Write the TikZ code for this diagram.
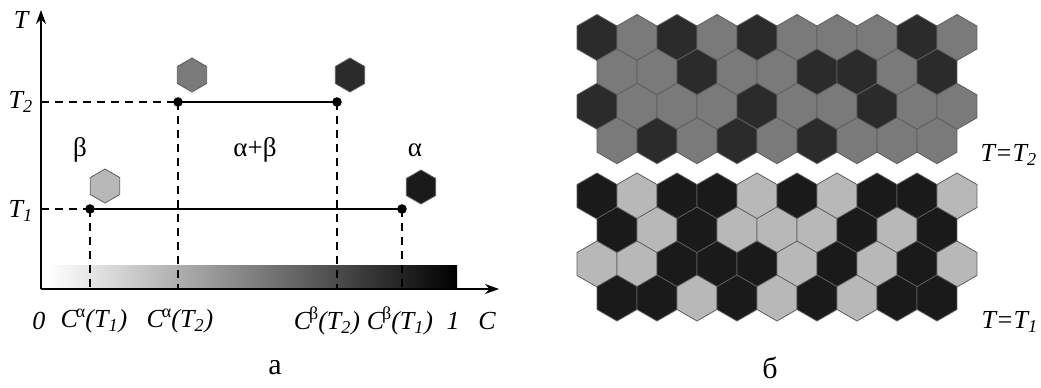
\documentclass[tikz,border=0pt]{standalone}
\usepackage{fontspec}
\setmainfont{Liberation Serif}
\usetikzlibrary{arrows.meta}
\definecolor{cL}{HTML}{B8B8B8}
\definecolor{cM}{HTML}{7A7A7A}
\definecolor{cD}{HTML}{2B2B2B}
\definecolor{cB}{HTML}{1A1A1A}
\definecolor{hexline}{HTML}{5E5E5E}

\begin{document}
\begin{tikzpicture}[x=0.5pt,y=-0.5pt,
  hexcell/.style={draw=hexline, line width=0.4pt},
  guide/.style={dash pattern=on 4pt off 3pt, line width=0.6pt},
  tieline/.style={line width=0.9pt},
  axis/.style={line width=0.9pt, -{Stealth[length=7pt,width=5pt]}},
  lbl/.style={font=\fontsize{13}{15}\selectfont\itshape},
  greek/.style={font=\fontsize{13.5}{15}\selectfont},
  caption/.style={font=\fontsize{15}{17}\selectfont}]
\useasboundingbox (0,0) rectangle (1041,387);

% Phase diagram
\shade[left color=white, right color=black] (49,265) rectangle (457,289);
\coordinate (o) at (41,289);
\draw[axis] (o) -- (41,10);
\draw[axis] (o) -- (499,289);

\coordinate (a1) at (90,209);
\coordinate (b1) at (402,209);
\coordinate (a2) at (178,102);
\coordinate (b2) at (337,102);

\draw[guide] (o |- a1) -- (a1);
\draw[guide] (o |- a2) -- (a2);
\draw[guide] (a1) -- (a1 |- o);
\draw[guide] (b1) -- (b1 |- o);
\draw[guide] (a2) -- (a2 |- o);
\draw[guide] (b2) -- (b2 |- o);
\draw[tieline] (a1) -- (b1);
\draw[tieline] (a2) -- (b2);
\foreach \pt in {a1,b1,a2,b2}
  \fill (\pt) circle (4.8);

% Phase grains
\filldraw[hexcell, fill=cL] (105,186) +(90:17) -- +(150:17) -- +(210:17) -- +(270:17) -- +(330:17) -- +(30:17) -- cycle;
\filldraw[hexcell, fill=cM] (192,75) +(90:17) -- +(150:17) -- +(210:17) -- +(270:17) -- +(330:17) -- +(30:17) -- cycle;
\filldraw[hexcell, fill=cD] (350,75) +(90:17) -- +(150:17) -- +(210:17) -- +(270:17) -- +(330:17) -- +(30:17) -- cycle;
\filldraw[hexcell, fill=cB] (421,187) +(90:17) -- +(150:17) -- +(210:17) -- +(270:17) -- +(330:17) -- +(30:17) -- cycle;

% Axis labels
\node[lbl] (tlab) at (21,20) {T};
\node[lbl] (t2lab) at (21,102) {T\textsubscript{2}};
\node[lbl] (t1lab) at (21,211) {T\textsubscript{1}};
\node[greek] (beta) at (80,150) {β};
\node[greek] (mix) at (255,150) {α+β};
\node[greek] (alpha) at (415,150) {α};
\node[lbl] (zero) at (39,321) {0};
\node[lbl] (ca1) at (94,321) {C\kern-0.08em\raisebox{0.9ex}{\small\upshape α}(T\textsubscript{1})};
\node[lbl] (ca2) at (180,321) {C\kern-0.08em\raisebox{0.9ex}{\small\upshape α}(T\textsubscript{2})};
\node[lbl] (cb2) at (327,321) {C\kern-0.08em\raisebox{0.9ex}{\small\upshape β}(T\textsubscript{2})};
\node[lbl] (cb1) at (400,321) {C\kern-0.08em\raisebox{0.9ex}{\small\upshape β}(T\textsubscript{1})};
\node[lbl] (one) at (453,321) {1};
\node[lbl] (clab) at (487,321) {C};
\node[caption] (capa) at (275,368) {а};

% Microstructure at T = T2
\foreach \rowi/\cols in {0/{D,M,D,M,D,M,M,M,D,M},1/{M,M,D,M,M,D,D,M,D},2/{D,M,M,M,D,M,M,D,M,M},3/{M,D,M,D,M,D,M,M,M}}{
  \foreach \tone [count=\idx from 0] in \cols {
    \pgfmathsetmacro{\hx}{597+40*\idx+20*mod(\rowi,2)}
    \pgfmathsetmacro{\hy}{37.5+34.4*\rowi}
    \filldraw[hexcell, fill=c\tone] (\hx,\hy) +(90:23) -- +(150:23) -- +(210:23) -- +(270:23) -- +(330:23) -- +(30:23) -- cycle;
  }
}

% Microstructure at T = T1
\foreach \rowi/\cols in {0/{B,L,B,B,L,B,L,B,B,L},1/{B,L,B,L,L,L,B,L,B},2/{L,L,B,B,B,L,B,L,B,L},3/{B,B,L,B,L,B,L,B,B}}{
  \foreach \tone [count=\idx from 0] in \cols {
    \pgfmathsetmacro{\hx}{597+40*\idx+20*mod(\rowi,2)}
    \pgfmathsetmacro{\hy}{196+34*\rowi}
    \filldraw[hexcell, fill=c\tone] (\hx,\hy) +(90:23) -- +(150:23) -- +(210:23) -- +(270:23) -- +(330:23) -- +(30:23) -- cycle;
  }
}

\node[lbl] (state2) at (1009,155) {T=T\textsubscript{2}};
\node[lbl] (state1) at (1010,322) {T=T\textsubscript{1}};
\node[caption] (capb) at (770,368) {б};
\end{tikzpicture}
\end{document}
